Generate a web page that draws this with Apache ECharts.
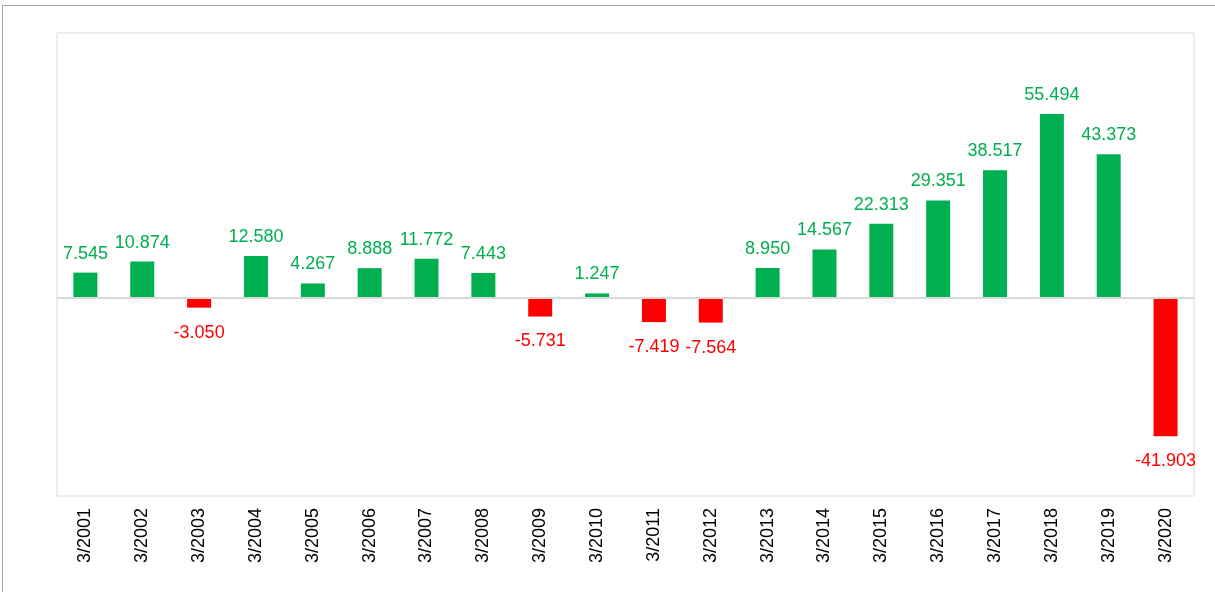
<!DOCTYPE html>
<html>
<head>
<meta charset="utf-8">
<script src="https://cdn.jsdelivr.net/npm/echarts@6/dist/echarts.min.js"></script>
<style>
  html, body { margin: 0; padding: 0; background: #fff; }
  .frame {
    position: absolute; left: 2px; top: 5px;
    width: 1300px; height: 700px;
    border-top: 1px solid #a6a6a6;
    border-left: 1px solid #a6a6a6;
  }
  #chart { position: absolute; left: 0; top: 0; width: 1215px; height: 592px; }
</style>
</head>
<body>
<div class="frame"></div>
<div id="chart"></div>
<script>
const categories = ['3/2001','3/2002','3/2003','3/2004','3/2005','3/2006','3/2007','3/2008','3/2009','3/2010',
  '3/2011','3/2012','3/2013','3/2014','3/2015','3/2016','3/2017','3/2018','3/2019','3/2020']
const values = [7.545, 10.874, -3.050, 12.580, 4.267, 8.888, 11.772, 7.443, -5.731, 1.247,
  -7.419, -7.564, 8.950, 14.567, 22.313, 29.351, 38.517, 55.494, 43.373, -41.903]

const upColor = '#00B050'
const downColor = '#FF0000'

const chart = echarts.init(document.getElementById('chart'))

const barData = values.map(v => {
  const c = v >= 0 ? upColor : downColor
  return {
    value: v,
    itemStyle: { color: c },
    label: { position: v >= 0 ? 'top' : 'bottom', distance: v >= 0 ? 10 : 16, color: c }
  }
})

const option = {
  animation: false,
  grid: {
    left: 57, right: 21, top: 33, bottom: 96,
    show: true,
    borderColor: '#d9d9d9',
    borderWidth: 1
  },
  xAxis: {
    type: 'category',
    data: categories,
    axisLine: { show: false, onZero: false },
    axisTick: { show: false },
    axisLabel: {
      rotate: 90,
      margin: 12,
      color: '#000',
      fontSize: 18,
      fontFamily: 'Liberation Sans, Arial, sans-serif'
    }
  },
  yAxis: {
    type: 'value',
    min: -60,
    max: 80,
    show: false,
    splitLine: { show: false }
  },
  series: [{
    type: 'bar',
    data: barData,
    barWidth: 24,
    label: {
      show: true,
      fontSize: 18,
      fontFamily: 'Liberation Sans, Arial, sans-serif',
      formatter: p => p.value.toFixed(3)
    },
    markLine: {
      silent: true,
      symbol: 'none',
      label: { show: false },
      lineStyle: { color: '#d9d9d9', width: 2, type: 'solid' },
      data: [{ yAxis: 0 }]
    }
  }]
}

chart.setOption(option)
</script>
</body>
</html>
